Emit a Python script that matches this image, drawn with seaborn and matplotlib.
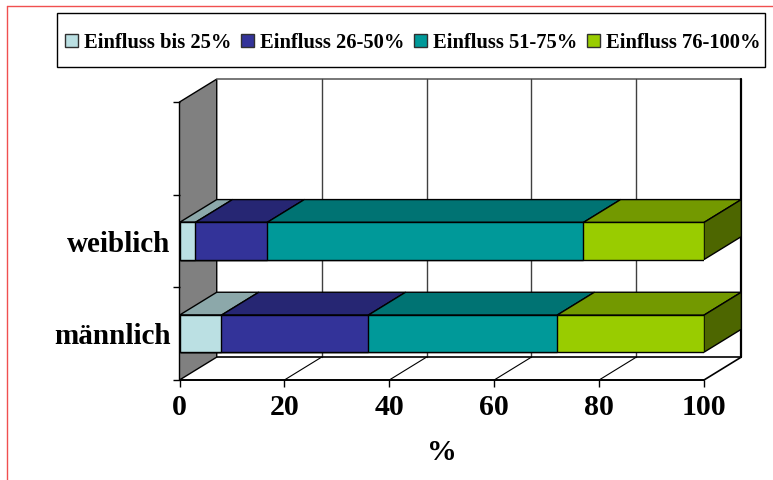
import numpy as np
import pandas as pd
import matplotlib.pyplot as plt
import seaborn as sns
from matplotlib.lines import Line2D
from matplotlib.patches import Patch, Rectangle

# top to bottom, the top slot stays empty
categories = ['', 'weiblich', 'männlich']
bar_categories = ['weiblich', 'männlich']
series_names = ['Einfluss bis 25%', 'Einfluss 26-50%', 'Einfluss 51-75%', 'Einfluss 76-100%']
weiblich = [3, 13.7, 60.3, 23]
maennlich = [8, 28, 36, 28]
x_ticks = [0, 20, 40, 60, 80, 100]

front_colors = ['#BBE0E3', '#333399', '#009999', '#99CC00']
top_colors = ['#8CA8AA', '#262673', '#007373', '#739900']
side_color = '#4D6600'
wall_color = '#808080'

# depth of the fake 3D box, in data units
DX = 7.1
DY = 0.247
BAR_H = 0.4
W, H = 773, 480


def build_frame():
    rows = []
    for name, values in zip(bar_categories, [weiblich, maennlich]):
        ends = np.cumsum(values)
        for i, end in enumerate(ends):
            rows.append({'Geschlecht': name, 'serie': series_names[i], 'start': end - values[i], 'ende': end})
    return pd.DataFrame(rows)


def draw_box(ax):
    top, bottom = -0.5, 2.5
    ax.fill([0, DX, DX, 0], [top, top - DY, bottom - DY, bottom], color=wall_color, ec='black', lw=1, zorder=0.5, clip_on=False)
    ax.plot([DX, 100 + DX], [top - DY, top - DY], color='#606060', lw=1.2, zorder=0.6, clip_on=False)
    ax.plot([100 + DX, 100 + DX], [top - DY, bottom - DY], color='black', lw=1.6, zorder=0.7, clip_on=False)
    ax.plot([DX, 100 + DX], [bottom - DY, bottom - DY], color='black', lw=1.2, zorder=0.7, clip_on=False)
    ax.plot([100, 100 + DX], [bottom, bottom - DY], color='black', lw=1.2, zorder=0.7, clip_on=False)
    ax.plot([0, 100], [bottom, bottom], color='black', lw=1.4, zorder=0.7, clip_on=False)
    for t in x_ticks[1:-1]:
        ax.plot([t + DX, t + DX], [top - DY, bottom - DY], color='#404040', lw=1, zorder=0.6, clip_on=False)
        ax.plot([t, t + DX], [bottom, bottom - DY], color='black', lw=0.8, zorder=0.6, clip_on=False)


def draw_bars(ax, df):
    # longest stack first, shorter ones paint over it
    for i in range(len(series_names) - 1, -1, -1):
        part = df[df['serie'] == series_names[i]]
        sns.barplot(data=part, y='Geschlecht', x='ende', order=categories, color=front_colors[i],
                    saturation=1, width=BAR_H, edgecolor='black', linewidth=1, errorbar=None, ax=ax, zorder=1.3)
    for _, row in df.iterrows():
        i = series_names.index(row['serie'])
        y = categories.index(row['Geschlecht']) - BAR_H / 2
        x0, x1 = row['start'], row['ende']
        ax.fill([x0, x1, x1 + DX, x0 + DX], [y, y, y - DY, y - DY], facecolor=top_colors[i],
                edgecolor='black', lw=1, zorder=1.2, clip_on=False)
    for name in bar_categories:
        y = categories.index(name) - BAR_H / 2
        ax.fill([100, 100 + DX, 100 + DX, 100], [y, y - DY, y - DY + BAR_H, y + BAR_H], facecolor=side_color,
                edgecolor='black', lw=1, zorder=1.2, clip_on=False)


def style_axes(ax):
    ax.set_xlim(0, 100)
    ax.set_ylim(2.5, -0.5)
    ax.patch.set_alpha(0)
    for s in ax.spines.values():
        s.set_visible(False)
    ax.set_xticks(x_ticks)
    ax.tick_params(axis='x', length=5, width=1, color='black', labelsize=21.5, pad=5, bottom=True)
    ax.set_yticks([0, 1, 2], categories)
    ax.set_yticks([-0.5, 0.5, 1.5, 2.5], minor=True)
    ax.tick_params(axis='y', which='major', length=0, labelsize=21, pad=6.5, left=False)
    ax.tick_params(axis='y', which='minor', length=5, width=1, color='black', left=True)
    ax.set_ylabel('')
    ax.set_xlabel('%', fontsize=21.5, fontweight='bold', labelpad=13)
    for lab in ax.get_xticklabels() + ax.get_yticklabels():
        lab.set_fontweight('bold')


def add_legend(fig):
    fig.add_artist(Rectangle((56.5 / W, 1 - 66.5 / H), 708.5 / W, 53 / H, transform=fig.transFigure,
                             facecolor='white', edgecolor='black', lw=1))
    handles = [Patch(facecolor=c, edgecolor='#303030', lw=1) for c in front_colors]
    fig.legend(handles, series_names, ncol=4, loc='center', bbox_to_anchor=(413 / W, 1 - 42.5 / H),
               frameon=False, prop={'family': 'Liberation Serif', 'weight': 'bold', 'size': 14.8},
               handlelength=0.62, handleheight=0.62, handletextpad=0.3, columnspacing=0.48,
               borderpad=0, borderaxespad=0)


def add_page_border(fig):
    red = '#F05050'
    fig.add_artist(Line2D([7.5 / W, 7.5 / W], [0, 1 - 5.5 / H], color=red, lw=1))
    fig.add_artist(Line2D([7.5 / W, 1], [1 - 5.5 / H, 1 - 5.5 / H], color=red, lw=1))


def main():
    sns.set_theme(style='white')
    plt.rcParams['font.family'] = ['Liberation Serif', 'DejaVu Serif']
    plt.rcParams['text.color'] = 'black'
    plt.rcParams['xtick.labelcolor'] = 'black'
    plt.rcParams['ytick.labelcolor'] = 'black'
    plt.rcParams['axes.labelcolor'] = 'black'

    fig = plt.figure(figsize=(W / 100, H / 100), dpi=100)
    ax = fig.add_axes([179.5 / W, 1 - 380 / H, (704 - 179.5) / W, (380 - 102) / H])
    df = build_frame()
    draw_box(ax)
    draw_bars(ax, df)
    style_axes(ax)
    add_legend(fig)
    add_page_border(fig)
    fig.savefig('out.png', dpi=100)


if __name__ == "__main__":
    main()
